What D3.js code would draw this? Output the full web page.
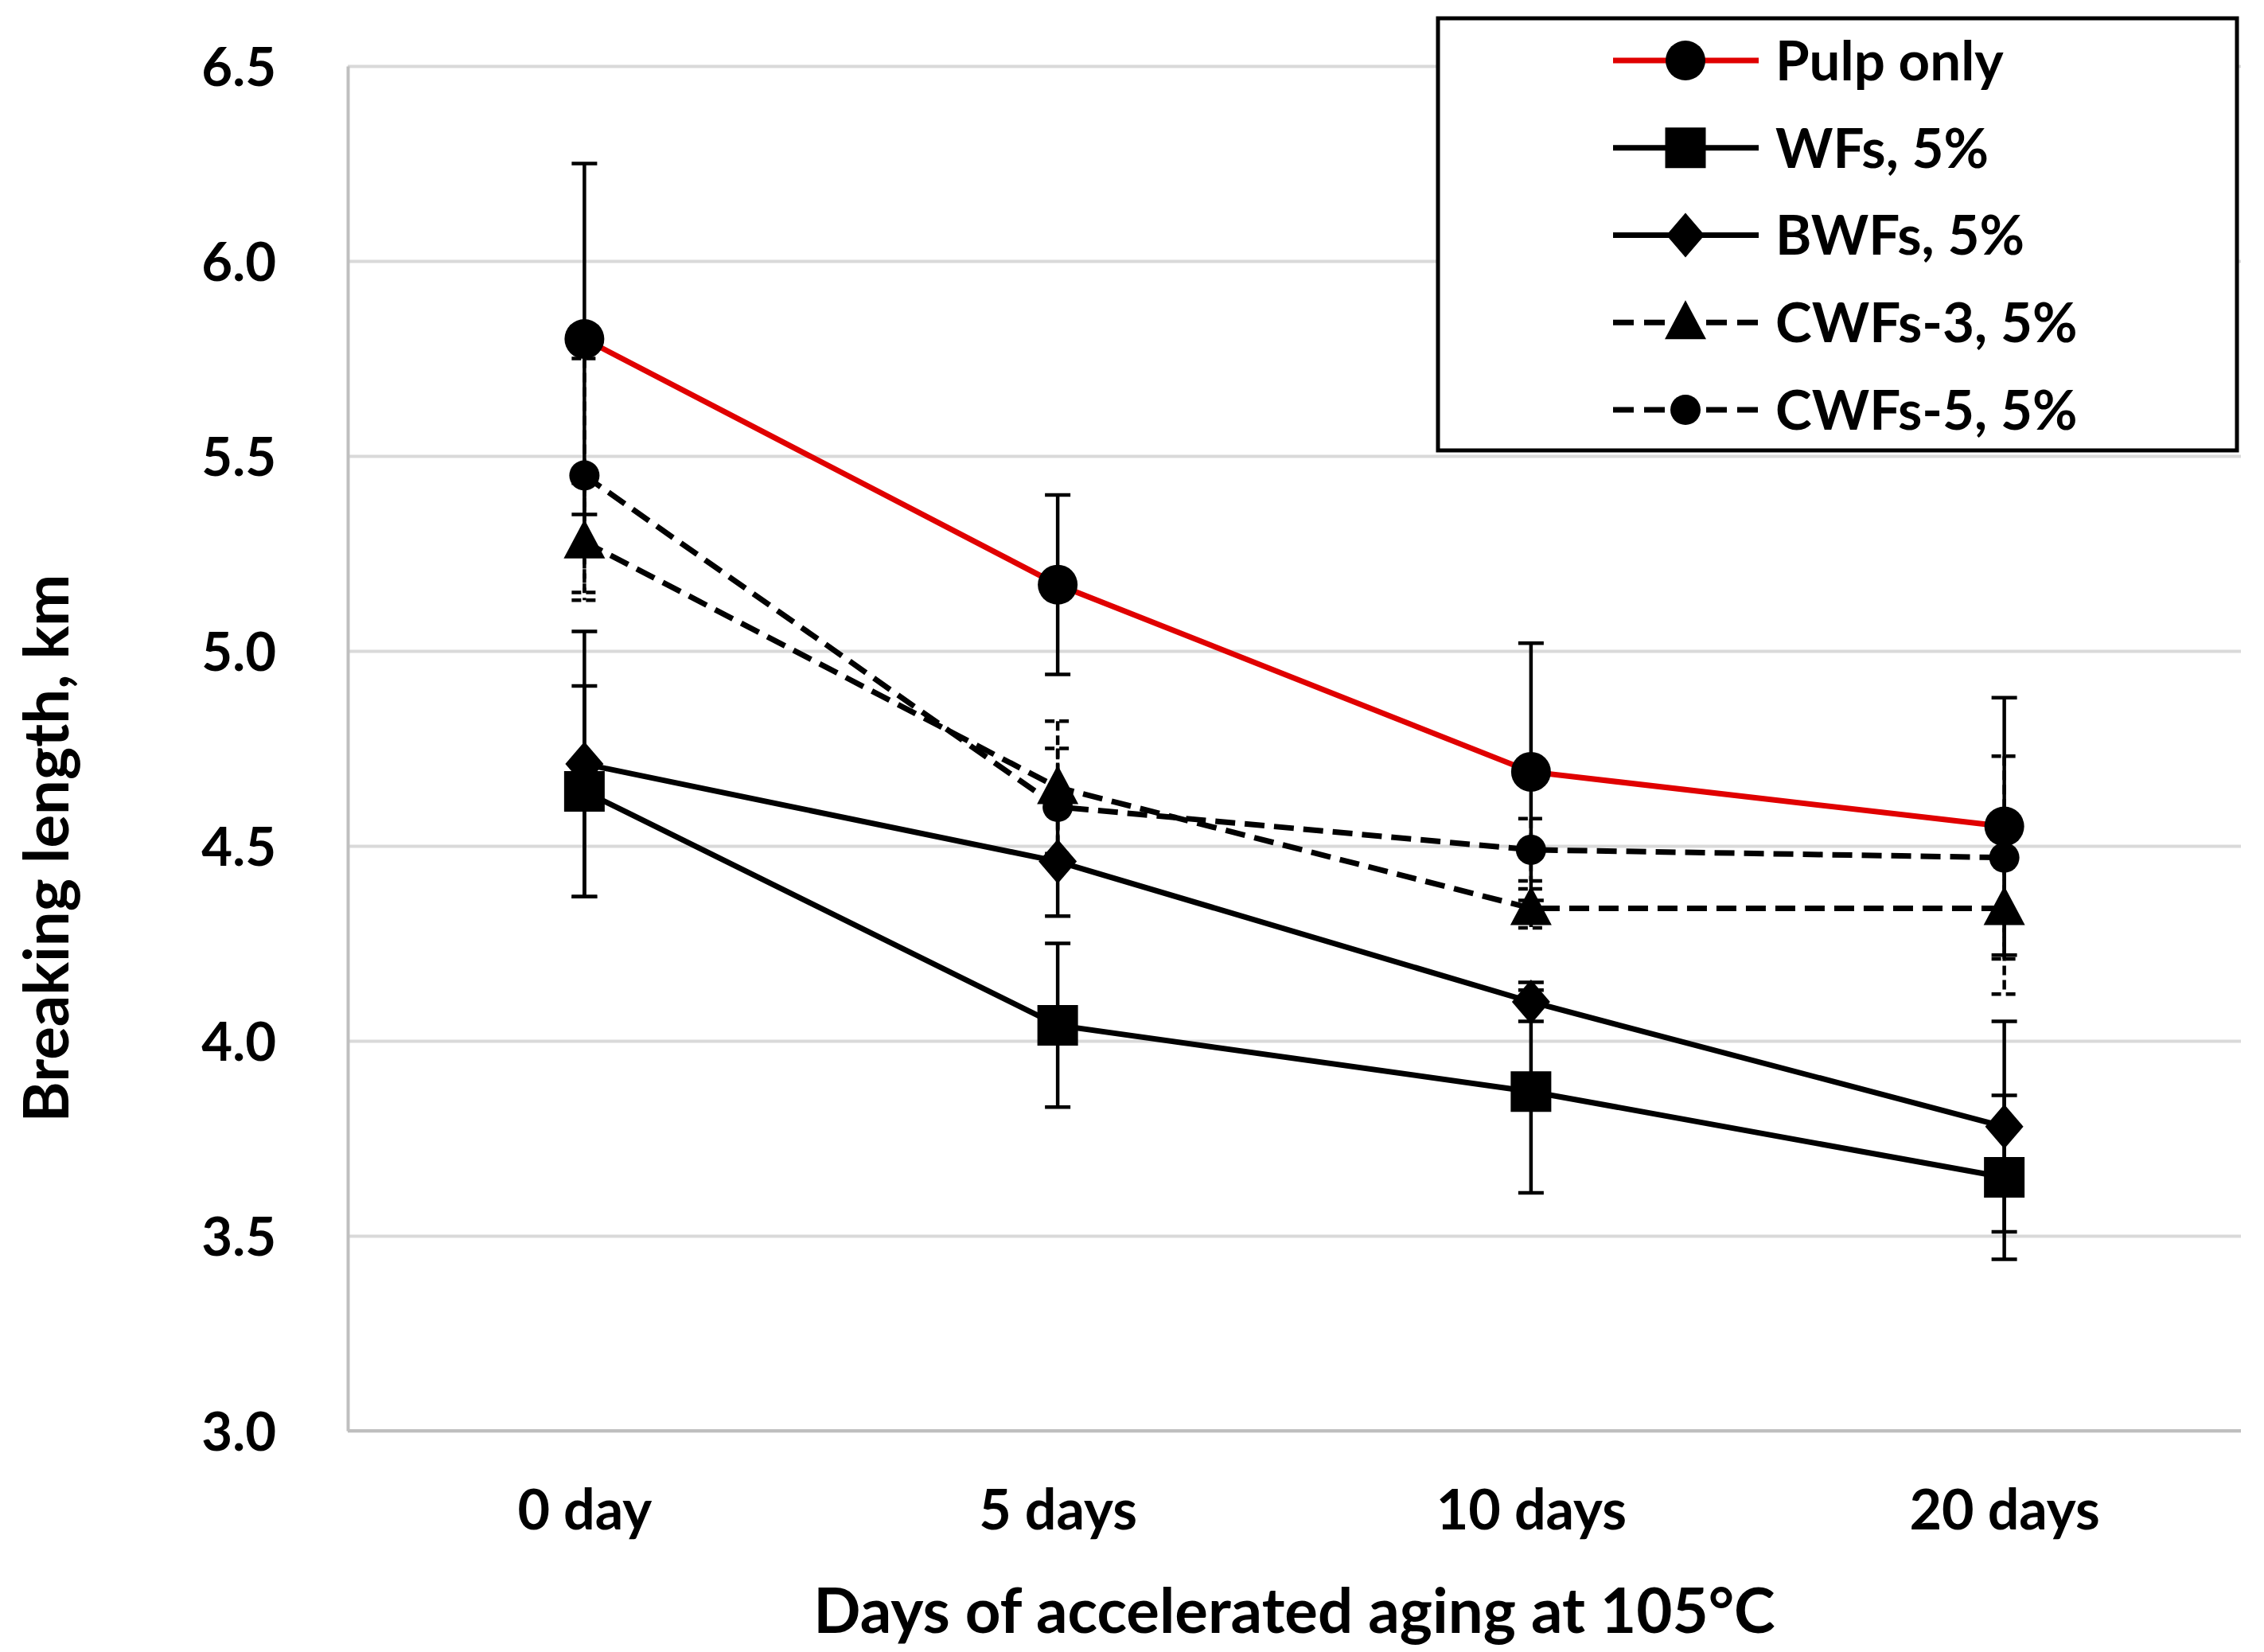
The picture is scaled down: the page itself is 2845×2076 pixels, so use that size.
<!DOCTYPE html>
<html>
<head>
<meta charset="utf-8">
<script src="https://cdn.jsdelivr.net/npm/d3@7"></script>
<style>
  body { margin: 0; background: #ffffff; }
  svg { display: block; }
  text { font-family: Lato, 'Open Sans', sans-serif; font-weight: 700; fill: #000; }
</style>
</head>
<body>
<div id="chart"></div>
<script>
'use strict';

//#region data
const days      = ['0 day', '5 days', '10 days', '20 days'];
const yTicks    = [3.0, 3.5, 4.0, 4.5, 5.0, 5.5, 6.0, 6.5];

const pulpMean  = [5.80, 5.17, 4.69, 4.55];
const pulpErr   = [0.45, 0.23, 0.33, 0.33];

const wfMean    = [4.64, 4.04, 3.87, 3.65];
const wfErr     = [0.27, 0.21, 0.26, 0.21];

const bwfMean   = [4.71, 4.46, 4.10, 3.78];
const bwfErr    = [0.34, 0.14, 0.05, 0.27];

const cwf3Mean  = [5.28, 4.65, 4.34, 4.34];
const cwf3Err   = [0.15, 0.17, 0.05, 0.22];

const cwf5Mean  = [5.45, 4.60, 4.49, 4.47];
const cwf5Err   = [0.30, 0.15, 0.08, 0.26];

const seriesNames = ['Pulp only', 'WFs, 5%', 'BWFs, 5%', 'CWFs-3, 5%', 'CWFs-5, 5%'];
//#endregion

//styling for each series, same order as the names
const styles = [
  { mean: pulpMean, err: pulpErr, color: '#e00000', dash: null, marker: 'bigcircle' },
  { mean: wfMean,   err: wfErr,   color: '#000000', dash: null, marker: 'square' },
  { mean: bwfMean,  err: bwfErr,  color: '#000000', dash: null, marker: 'diamond' },
  { mean: cwf3Mean, err: cwf3Err, color: '#000000', dash: '25,12', marker: 'triangle' },
  { mean: cwf5Mean, err: cwf5Err, color: '#000000', dash: '25,12', marker: 'smallcircle' }
];

const W = 2845, H = 2076;
let margin = { top: 83, right: 29, bottom: 278, left: 437 };
let plotRight  = W - margin.right;
let plotBottom = H - margin.bottom;

const svg = d3.select('#chart').append('svg').attr('width', W).attr('height', H);
svg.append('rect').attr('width', W).attr('height', H).attr('fill', '#fff');

//scales
const x = d3.scalePoint().domain(days).range([margin.left, plotRight]).padding(0.5);
const y = d3.scaleLinear().domain([3, 6.5]).range([plotBottom, margin.top]);

//gridlines
svg.append('g')
  .attr('class', 'grid')
  .attr('transform', 'translate(' + margin.left + ',0)')
  .call(d3.axisLeft(y).tickValues(yTicks).tickSize(-(plotRight - margin.left)).tickFormat(''))
  .call(g => g.select('.domain').remove())
  .call(g => g.selectAll('line').attr('stroke', '#d9d9d9').attr('stroke-width', 4));

//y axis labels + vertical axis line
svg.append('g')
  .attr('transform', 'translate(' + margin.left + ',0)')
  .call(d3.axisLeft(y).tickValues(yTicks).tickSize(0).tickPadding(90).tickFormat(d3.format('.1f')))
  .call(g => g.select('.domain').attr('stroke', '#bfbfbf').attr('stroke-width', 4))
  .call(g => g.selectAll('text').attr('font-size', 67).attr('font-family', null).attr('dy', '0.36em'));

//x axis
svg.append('g')
  .attr('transform', 'translate(0,' + plotBottom + ')')
  .call(d3.axisBottom(x).tickSize(0))
  .call(g => g.select('.domain').attr('stroke', '#bfbfbf').attr('stroke-width', 4).attr('d', 'M' + margin.left + ',0H' + plotRight))
  .call(g => g.selectAll('text').attr('font-size', 70).attr('font-family', null).attr('y', 1922 - plotBottom).attr('dy', 0));

//axis titles
svg.append('text')
  .attr('x', (margin.left + plotRight) / 2)
  .attr('y', 2052)
  .attr('text-anchor', 'middle')
  .attr('font-size', 78)
  .text('Days of accelerated aging at 105°C');

svg.append('text')
  .attr('transform', 'translate(86,1066) rotate(-90)')
  .attr('text-anchor', 'middle')
  .attr('font-size', 78)
  .text('Breaking length, km');

//marker drawing helper
function drawMarker(g, kind, cx, cy) {
  let m;
  if (kind === 'bigcircle') {
    m = g.append('circle').attr('r', 25);
  } else if (kind === 'smallcircle') {
    m = g.append('circle').attr('r', 19);
  } else if (kind === 'square') {
    m = g.append('path').attr('d', d3.symbol(d3.symbolSquare, 51 * 51)());
  } else if (kind === 'diamond') {
    m = g.append('path').attr('d', 'M0,-28L24,0L0,28L-24,0Z');
  } else {
    m = g.append('path').attr('d', 'M0,-28L26,21L-26,21Z');
  }
  m.attr('fill', '#000');
  if (m.node().tagName === 'circle') m.attr('cx', cx).attr('cy', cy);
  else m.attr('transform', 'translate(' + cx + ',' + cy + ')');
}

//series: line, error bars, markers
const line = d3.line()
  .x(function(d, i) { return x(days[i]); })
  .y(function(d) { return y(d); });

styles.forEach(function(s) {
  let g = svg.append('g');

  g.append('path')
    .attr('d', line(s.mean))
    .attr('fill', 'none')
    .attr('stroke', s.color)
    .attr('stroke-width', 7)
    .attr('stroke-dasharray', s.dash);

  s.mean.forEach(function(v, i) {
    let cx = x(days[i]);
    let top = y(v + s.err[i]), bot = y(v - s.err[i]);
    let eb = g.append('g')
      .attr('stroke', '#000')
      .attr('stroke-width', 4.5)
      .attr('stroke-dasharray', s.dash ? '12,6' : null);
    eb.append('line').attr('x1', cx).attr('x2', cx).attr('y1', top).attr('y2', bot);
    eb.append('line').attr('x1', cx - 16).attr('x2', cx + 16).attr('y1', top).attr('y2', top).attr('stroke-dasharray', null);
    eb.append('line').attr('x1', cx - 16).attr('x2', cx + 16).attr('y1', bot).attr('y2', bot).attr('stroke-dasharray', null);
  });

  s.mean.forEach(function(v, i) {
    drawMarker(g, s.marker, x(days[i]), y(v));
  });
});

//legend
const legend = svg.append('g');
legend.append('rect')
  .attr('x', 1807).attr('y', 23).attr('width', 1004).attr('height', 543)
  .attr('fill', '#fff').attr('stroke', '#000').attr('stroke-width', 5);

const legendY = d3.scalePoint().domain(seriesNames).range([76, 515]);

styles.forEach(function(s, i) {
  let ly = legendY(seriesNames[i]);
  legend.append('line')
    .attr('x1', 2027).attr('x2', 2210).attr('y1', ly).attr('y2', ly)
    .attr('stroke', s.color).attr('stroke-width', 7)
    .attr('stroke-dasharray', s.dash ? '26,13' : null);
  drawMarker(legend, s.marker, 2118, ly);
  legend.append('text')
    .attr('x', 2231).attr('y', ly).attr('dy', '0.36em')
    .attr('font-size', 69)
    .text(seriesNames[i]);
});
</script>
</body>
</html>
